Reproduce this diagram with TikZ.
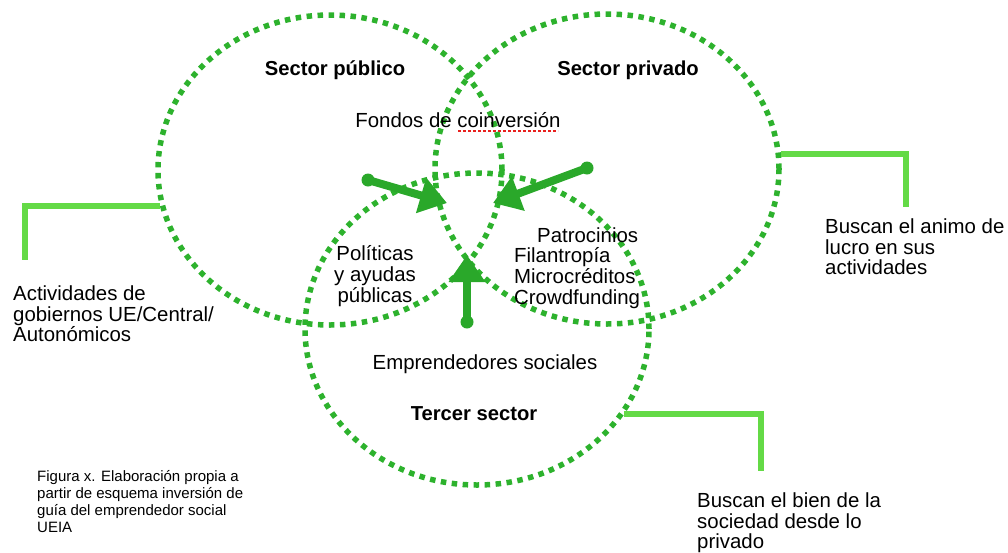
\documentclass[tikz,border=0pt]{standalone}
\usepackage{fontspec}
\setmainfont{Liberation Sans}
\usetikzlibrary{arrows.meta,shapes.geometric}
\definecolor{dotgreen}{HTML}{2DB22D}
\definecolor{lightgreen}{HTML}{64DA46}
\definecolor{arrowgreen}{HTML}{2AA82A}
\definecolor{spellred}{HTML}{E8201E}
\begin{document}
\begin{tikzpicture}[x=1pt,y=-1pt,
  sector/.style={ellipse, draw=dotgreen, line width=5.5pt, dash pattern=on 5.5pt off 5.5pt,
    minimum width=344pt, minimum height=310pt, inner sep=0pt},
  bracket/.style={draw=lightgreen, line width=6.5pt},
  bigarrow/.style={draw=arrowgreen, line width=8pt, line cap=round, -{Triangle[length=27pt,width=35pt]}},
  blob/.style={circle, fill=arrowgreen, minimum size=13pt, inner sep=0pt},
  txt/.style={font=\fontsize{20.4}{20.6}\selectfont, inner sep=0pt},
  title/.style={font=\fontsize{20.2}{20.6}\selectfont\bfseries, inner sep=0pt},
  capt/.style={font=\fontsize{15}{17}\selectfont, inner sep=0pt, align=left, anchor=west}]
\useasboundingbox (0,0) rectangle (1008,552);
% sectors
\node[sector] (pub) at (330,170) {};
\node[sector] (priv) at (607,169) {};
\node[sector, minimum height=312pt] (ter) at (477,329) {};
% titles
\node[title] (pubt) at (335,70) {Sector público};
\node[title] (privt) at (628,70) {Sector privado};
\node[title] (tert) at (474,414) {Tercer sector};
% inner texts
\node[txt] (fondos) at (458,120) {Fondos de coinversión};
\draw[spellred, line width=2pt, dash pattern=on 3pt off 2pt] (458,131) -- (558,131);
\node[txt, align=center] (pol) at (375,276) {Políticas\\y ayudas\\públicas};
\node[txt, align=left, anchor=west] (patro) at (514,268) {\hspace*{23pt}Patrocinios\\Filantropía\\Microcréditos\\Crowdfunding};
\node[txt] (empr) at (485,364) {Emprendedores sociales};
% outer texts
\node[txt, align=left, anchor=west] (act) at (13,314) {Actividades de\\gobiernos UE/Central/\\Autonómicos};
\node[txt, align=left, anchor=west] (lucro) at (825,247) {Buscan el animo de\\lucro en sus\\actividades};
\node[txt, align=left, anchor=west] (bien) at (697,523) {Buscan el bien de la\\sociedad desde lo\\privado};
\node[capt] (cap) at (37,502) {Figura x. Elaboración propia a\\partir de esquema inversión de\\guía del emprendedor social\\UEIA};
% brackets
\coordinate (lb) at (25,260);
\coordinate (rb) at (906,207);
\coordinate (bb) at (761,471);
\draw[bracket] (pub.192) -| (lb);
\draw[bracket] (priv.5.6) -| (rb);
\draw[bracket] (ter.-30.2) -| (bb);
% arrows
\node[blob] (t1) at (368,180) {};
\node[blob] (t2) at (587,168) {};
\node[blob] (t3) at (467,322) {};
\coordinate (h1) at (447,203);
\coordinate (h2) at (493,203);
\coordinate (h3) at (467,255);
\draw[bigarrow] (t1.center) -- (h1);
\draw[bigarrow] (t2.center) -- (h2);
\draw[bigarrow] (t3.center) -- (h3);
\end{tikzpicture}
\end{document}
